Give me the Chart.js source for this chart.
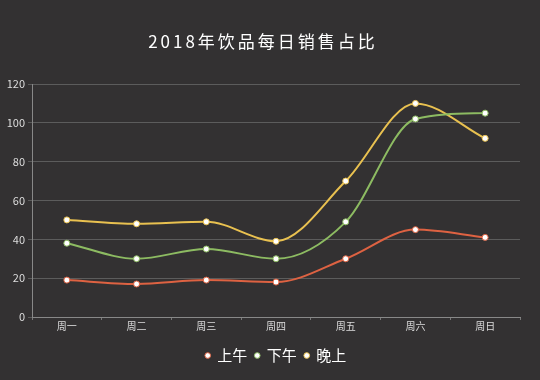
<!DOCTYPE html>
<html><head><meta charset="utf-8">
<script src="https://cdn.jsdelivr.net/npm/chart.js@4"></script>
<style>html,body{margin:0;padding:0;background:#333132;}#w{width:540px;height:380px;}</style>
</head><body><div id="w"><canvas id="c" width="540" height="380"></canvas></div>
<script>
const categories = ['周一','周二','周三','周四','周五','周六','周日'];
const morning = [19, 17, 19, 18, 30, 45, 41];
const afternoon = [38, 30, 35, 30, 49, 102, 105];
const evening = [50, 48, 49, 39, 70, 110, 92];
const seriesNames = ['上午','下午','晚上'];
const titleText = '2018年饮品每日销售占比';
const colors = ['#de6242','#8dbb62','#e9c150'];
const FONT = '"Noto Sans CJK SC", "Noto Sans", sans-serif';

const bg = {id:'bg', beforeDraw(ch){const c=ch.ctx;c.save();c.fillStyle='#333132';c.fillRect(0,0,ch.width,ch.height);c.restore();}};
const titlePlugin = {id:'spacedTitle', afterDraw(ch){
  const c=ch.ctx; c.save();
  c.font = '17px ' + FONT; c.fillStyle='#ffffff'; c.textAlign='center'; c.textBaseline='middle';
  try { c.letterSpacing = '3px'; } catch(e) {}
  c.fillText(titleText, 263, 42);
  c.restore();
}};

const mk = (i, data) => ({
  label: seriesNames[i], data, borderColor: colors[i], backgroundColor: '#ffffff',
  pointBackgroundColor: '#ffffff', pointBorderColor: colors[i], pointBorderWidth: 1,
  pointRadius: 3, borderWidth: 2, cubicInterpolationMode: 'monotone', fill: false
});

new Chart(document.getElementById('c'), {
  type: 'line',
  data: { labels: categories, datasets: [mk(0, morning), mk(1, afternoon), mk(2, evening)] },
  options: {
    responsive: false, animation: false, maintainAspectRatio: false,
    layout: { padding: { left: 0, right: 20, top: 84, bottom: 7 } },
    plugins: {
      title: { display: false },
      legend: { position: 'bottom', fullSize: false, labels: { color: '#ffffff', usePointStyle: true, pointStyle: 'circle',
        boxWidth: 4, boxHeight: 4, padding: 8, font: { family: FONT, size: 15 } } },
      tooltip: { enabled: false }
    },
    scales: {
      x: { offset: true,
        afterFit(s){ s.height = 23; },
        grid: { display: true, drawOnChartArea: false, color: '#777', tickLength: 3, offset: true },
        border: { color: '#888', width: 1 },
        ticks: { color: '#dddddd', font: { family: FONT, size: 10 }, padding: 0 } },
      y: { min: 0, max: 120,
        afterFit(s){ s.width = 32; },
        ticks: { stepSize: 20, color: '#dddddd', font: { family: FONT, size: 11 }, padding: 3 },
        grid: { color: '#5c5c5c', tickLength: 4 },
        border: { color: '#888', width: 1 } }
    }
  },
  plugins: [bg, titlePlugin]
});
</script></body></html>
